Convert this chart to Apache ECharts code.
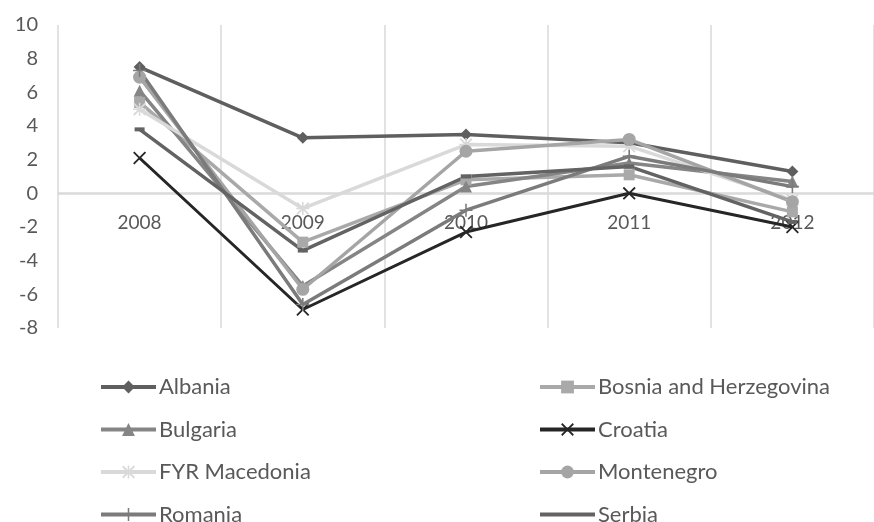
<!DOCTYPE html>
<html>
<head>
<meta charset="utf-8">
<script src="https://cdn.jsdelivr.net/npm/echarts@6/dist/echarts.min.js"></script>
<style>html,body{margin:0;padding:0;background:#fff}#c{width:874px;height:522px}</style>
</head>
<body>
<div id="c"></div>
<script>
const years = ['2008', '2009', '2010', '2011', '2012'];
const albania = [7.5, 3.3, 3.5, 3.0, 1.3];
const bosnia = [5.4, -2.9, 0.8, 1.1, -1.1];
const bulgaria = [6.1, -5.5, 0.4, 1.8, 0.7];
const croatia = [2.1, -6.9, -2.3, 0.0, -2.0];
const macedonia = [5.0, -0.9, 2.9, 2.8, -0.4];
const montenegro = [6.9, -5.7, 2.5, 3.2, -0.5];
const romania = [7.3, -6.6, -1.0, 2.2, 0.4];
const serbia = [3.8, -3.4, 1.0, 1.6, -1.7];
const yTicks = [-8, -6, -4, -2, 0, 2, 4, 6, 8, 10];

const X = 'path://M0,1L1,0L5,4L9,0L10,1L6,5L10,9L9,10L5,6L1,10L0,9L4,5Z';
const PLUS = 'path://M4.4,0H5.6V4.4H10V5.6H5.6V10H4.4V5.6H0V4.4H4.4Z';
const STAR = 'path://M0,1L1,0L5,4L9,0L10,1L6,5L10,9L9,10L5,6L1,10L0,9L4,5Z M4.4,0H5.6V10H4.4Z M0,4.4H10V5.6H0Z';
const DASH = 'path://M0,0H10V4H0Z';
const PLAIN_LINE = 'path://M0,0L0.01,0L0,0.01Z M0,16L0.01,16L0,15.99Z M0,6H55V10H0Z';

function s(name, data, color, symbol, size, width) {
  return {
    name, type: 'line', data, symbol, symbolSize: size,
    lineStyle: { color, width: width || 3.5 },
    itemStyle: { color },
    emphasis: { disabled: true },
    animation: false
  };
}

const chart = echarts.init(document.getElementById('c'));
const textColor = '#595959';
const grid = '#d9d9d9';
const font = 'Lato, sans-serif';
const legendCommon = {
  orient: 'vertical', itemWidth: 55, itemHeight: 16, itemGap: 20.5, padding: 0, height: 200,
  lineStyle: { width: 4 },
  textStyle: { color: textColor, fontSize: 22, fontFamily: font, padding: [0, 0, 0, -2] },
  selectedMode: false
};
chart.setOption({
  animation: false,
  grid: { left: 58, width: 830, top: 25, bottom: 194, containLabel: false },
  xAxis: {
    type: 'category', data: years, boundaryGap: true, offset: -135,
    axisLine: { show: true, onZero: false, lineStyle: { color: grid, width: 1.5 } },
    axisTick: { show: false },
    axisLabel: { color: textColor, fontSize: 19, fontFamily: font, margin: 20 },
    splitLine: { show: true, lineStyle: { color: grid, width: 1.5 } }
  },
  yAxis: {
    type: 'value', min: yTicks[0], max: yTicks[yTicks.length - 1], interval: 2,
    axisLine: { show: false, onZero: false }, axisTick: { show: false },
    splitLine: { show: true, lineStyle: { width: 1.5, color: yTicks.map(v => v === 0 ? grid : 'rgba(0,0,0,0)') } },
    axisLabel: { color: textColor, fontSize: 20, fontFamily: font, margin: 20 }
  },
  legend: [
    Object.assign({ left: 99, top: 376, data: ['Albania', 'Bulgaria', 'FYR Macedonia', 'Romania'] }, legendCommon),
    Object.assign({ left: 538, top: 376, data: ['Bosnia and Herzegovina', 'Croatia', 'Montenegro', { name: 'Serbia', icon: PLAIN_LINE }] }, legendCommon)
  ],
  series: [
    s('Albania', albania, '#5f5f5f', 'diamond', 12),
    s('Bosnia and Herzegovina', bosnia, '#a9a9a9', 'rect', 11),
    s('Bulgaria', bulgaria, '#858585', 'triangle', 12),
    s('Croatia', croatia, '#262626', X, 13, 3),
    s('FYR Macedonia', macedonia, '#d9d9d9', STAR, 13),
    s('Montenegro', montenegro, '#a5a5a5', 'circle', 13),
    s('Romania', romania, '#7b7b7b', PLUS, 13),
    s('Serbia', serbia, '#636363', DASH, [10, 4])
  ]
});
</script>
</body>
</html>
